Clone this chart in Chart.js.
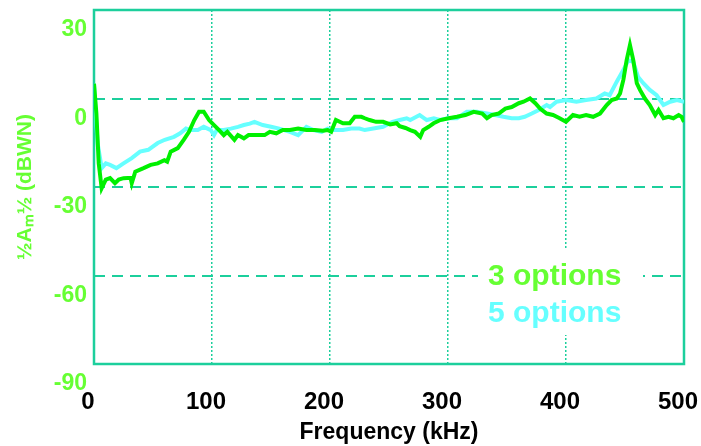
<!DOCTYPE html>
<html>
<head>
<meta charset="utf-8">
<script src="https://cdn.jsdelivr.net/npm/chart.js@4.4.1/dist/chart.umd.min.js"></script>
<style>
    html, body { margin: 0; padding: 0; background: #ffffff; }
    #wrap { width: 701px; height: 446px; }
</style>
</head>
<body>
<div id="wrap"><canvas id="spectrumChart" width="701" height="446"></canvas></div>
<script>
// Series (frequency in kHz, level in dB)
const threeFreq = [0, 2, 4, 6.5, 10, 13.6, 17.8, 21, 25, 31, 32, 35, 42, 48, 54, 59.6, 62, 65, 71, 76,
    80.5, 85, 89, 93, 97.5, 101.7, 106, 110, 113, 119, 122, 127, 131, 137.6, 144.6, 149, 154.5, 160, 166, 173,
    180, 187, 194, 198, 201, 205, 211, 216.7, 221, 226.6, 229.5, 233.6, 239, 245, 251, 256.5, 259, 264, 268, 272,
    276.5, 279, 283.6, 287.8, 293.5, 300.5, 307.6, 314.7, 321.8, 329, 333, 337, 342.9, 348.6, 354, 360, 364, 369.5, 374, 378,
    383.6, 389, 394.6, 400, 405.9, 411.5, 417, 423, 428.8, 434.5, 438.7, 443, 445.8, 448.6, 451.4, 454.2, 457, 460, 462.7, 467,
    471, 475.6, 478.4, 482.6, 486.9, 491, 495.5, 498, 500];
const threeLevel = [5, -5, -22, -30.4, -27.5, -27, -28.7, -27.5, -27, -26.9, -28.7, -24.8, -23.6, -22.5, -22, -20.9, -21.4, -18, -16.8, -14,
    -11.3, -7.3, -4.5, -4.5, -7.3, -9, -10.7, -12.4, -11.3, -14, -12.4, -13.5, -12.4, -12.4, -12.4, -11.3, -11.8, -10.7, -10.7, -10.2,
    -10.7, -10.7, -10.9, -10.7, -11.3, -7.3, -8.4, -8.4, -6.2, -6.2, -6.7, -7.3, -7.9, -7.9, -8.8, -8.4, -9.4, -10, -10.7, -11.3,
    -13, -10.7, -9.6, -8.4, -7.3, -6.7, -6.2, -5.6, -4.5, -5.1, -6.7, -5.6, -5.1, -3.4, -2.9, -1.6, -1.1, 0, -1.6, -3.4,
    -5.1, -5.6, -6.7, -7.9, -5.6, -6.2, -5.6, -6.2, -5.1, -2.2, -0.5, 0, 1.7, 6.3, 13, 18.1, 13, 5.2, 2.9, -0.1,
    -2.2, -5.6, -3.9, -6.7, -6.2, -6.7, -5.6, -6.2, -7.9];

const fiveFreq = [0, 1.5, 3, 6.5, 10, 13.6, 19, 25, 32, 39, 46, 54, 60, 67.8, 73, 78, 82, 88, 93, 99,
    101.7, 104, 110, 116, 122, 127, 132, 136, 143, 150, 157, 166, 173, 180, 186, 193, 198, 202, 211, 218,
    225, 229.5, 236.7, 245, 253, 259, 265, 268, 276, 282, 288, 293, 300, 307.6, 316, 324.6, 333, 340, 347, 354,
    360, 365, 371, 377, 383.6, 386.5, 392, 400, 408.8, 417, 425.7, 432.8, 437, 443, 448.6, 453, 457, 461, 465.5, 471,
    476.8, 482.6, 488.3, 494, 500];
const fiveLevel = [5, -5, -15, -23.6, -22, -22.5, -23.6, -22, -20.2, -18, -17.4, -15.1, -14, -13, -11.8, -10.2, -10.7, -10.7, -9.6, -10.7,
    -12.4, -10.7, -10.7, -10.2, -9.6, -9, -8.5, -7.9, -9, -9.6, -10.2, -11.3, -12.4, -9.6, -10.7, -11.3, -10.2, -10.7, -10.7, -10.2,
    -10.2, -10.7, -10.2, -9.6, -7.9, -7.3, -6.7, -7.3, -5.6, -7.3, -6.7, -7.3, -6.7, -6.7, -4.5, -4.5, -5.1, -5.6, -6.2, -6.7,
    -6.7, -6.2, -5.1, -3.9, -2.2, -2.9, -1.1, -0.5, -1.1, -0.5, 0, 1.7, 1.1, 5.7, 9.7, 13, 12.4, 7.4, 5.2, 2.9,
    1.1, -2.2, -1.1, -0.5, -1.1];

const seriesNames = ["3 options", "5 options"];
const freqTicks = [0, 100, 200, 300, 400, 500];
const levelTicks = [30, 0, -30, -60, -90];

const GRID_COLOR = "#1ccf9c";
const GREEN_TEXT = "#66ff33";
const LINE_GREEN = "#00f000";
const LINE_CYAN = "#66ffff";
const FONT = "'Liberation Sans', Arial, sans-serif";

Chart.defaults.font.family = FONT;

function toPoints(xs, ys) {
    return xs.map((x, i) => ({ x: x, y: ys[i] }));
}

// Solid frame round the plot area
const framePlugin = {
    id: "frame",
    beforeDatasetsDraw(chart) {
        const { ctx, chartArea: a } = chart;
        ctx.save();
        ctx.strokeStyle = GRID_COLOR;
        ctx.lineWidth = 2.5;
        ctx.strokeRect(a.left, a.top, a.right - a.left, a.bottom - a.top);
        ctx.restore();
    }
};

// Text legend sitting inside the plot, on a white patch
const insideLegend = {
    id: "insideLegend",
    afterDatasetsDraw(chart) {
        const { ctx, chartArea: a } = chart;
        const left = a.left + 394;
        ctx.save();
        ctx.fillStyle = "#ffffff";
        ctx.fillRect(a.left + 384, a.top + 239, 165, 86);
        ctx.font = "bold 30px " + FONT;
        ctx.textBaseline = "alphabetic";
        ctx.textAlign = "left";
        ctx.fillStyle = GREEN_TEXT;
        ctx.fillText(chart.data.datasets[0].label, left, a.top + 275);
        ctx.fillStyle = LINE_CYAN;
        ctx.fillText(chart.data.datasets[1].label, left, a.top + 312);
        ctx.restore();
    }
};

const ctx = document.getElementById("spectrumChart").getContext("2d");

new Chart(ctx, {
    type: "line",
    data: {
        datasets: [
            {
                label: seriesNames[0],
                data: toPoints(threeFreq, threeLevel),
                borderColor: LINE_GREEN,
                borderWidth: 4,
                pointRadius: 0,
                tension: 0
            },
            {
                label: seriesNames[1],
                data: toPoints(fiveFreq, fiveLevel),
                borderColor: LINE_CYAN,
                borderWidth: 4,
                pointRadius: 0,
                tension: 0
            }
        ]
    },
    options: {
        responsive: false,
        animation: false,
        layout: { padding: { top: 10, right: 17, left: 0, bottom: 0 } },
        plugins: {
            legend: { display: false },
            tooltip: { enabled: false }
        },
        scales: {
            x: {
                type: "linear",
                min: 0,
                max: 500,
                afterBuildTicks: (scale) => {
                    scale.ticks = freqTicks.map(v => ({ value: v }));
                },
                afterFit: (scale) => {
                    scale.height = 82;
                    scale.paddingLeft = 0;
                    scale.paddingRight = 0;
                },
                grid: {
                    color: GRID_COLOR,
                    lineWidth: 1.5,
                    drawTicks: false
                },
                border: { display: false, dash: [2, 2] },
                ticks: {
                    color: "#000000",
                    font: { size: 24, weight: "bold" },
                    padding: 24,
                    labelOffset: -6,
                    maxRotation: 0
                },
                title: {
                    display: true,
                    text: "Frequency (kHz)",
                    color: "#000000",
                    font: { size: 23, weight: "bold" },
                    padding: { top: 0, bottom: 0 }
                }
            },
            y: {
                min: -90,
                max: 30,
                afterBuildTicks: (scale) => {
                    scale.ticks = levelTicks.map(v => ({ value: v }));
                },
                afterFit: (scale) => {
                    scale.width = 94;
                    scale.paddingTop = 0;
                    scale.paddingBottom = 0;
                },
                grid: {
                    color: GRID_COLOR,
                    lineWidth: 2,
                    drawTicks: false
                },
                border: { display: false, dash: [11, 7] },
                ticks: {
                    color: GREEN_TEXT,
                    font: { size: 23, weight: "bold" },
                    padding: 7,
                    labelOffset: 20
                },
                title: {
                    display: true,
                    text: "½Aₘ½ (dBWN)",
                    color: GREEN_TEXT,
                    font: { size: 21, weight: "bold" },
                    padding: { top: 13, bottom: 0 }
                }
            }
        }
    },
    plugins: [framePlugin, insideLegend]
});
</script>
</body>
</html>
